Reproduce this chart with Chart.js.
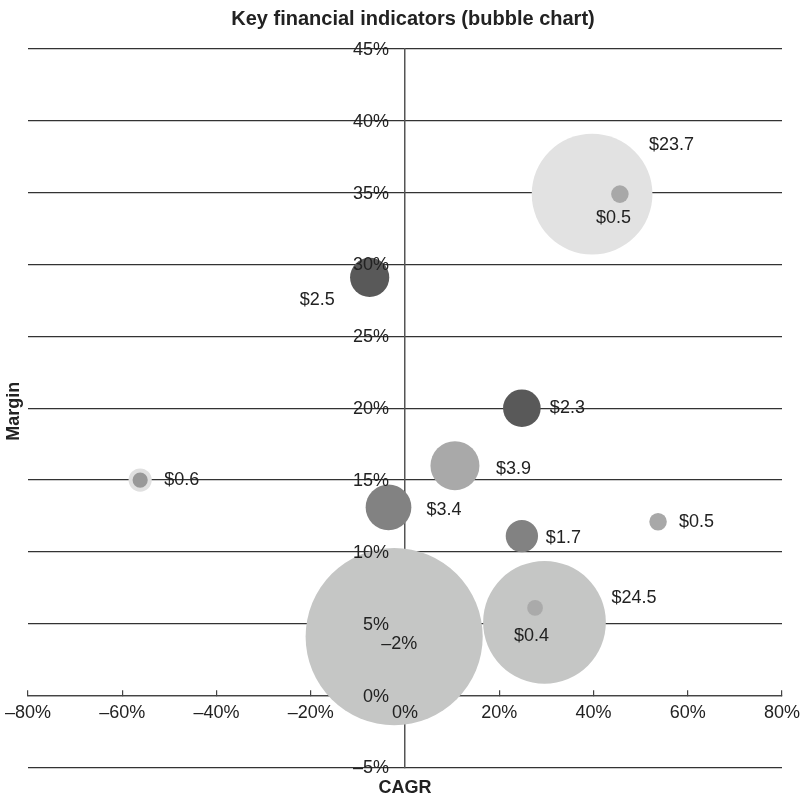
<!DOCTYPE html>
<html>
<head>
<meta charset="utf-8">
<title>Key financial indicators</title>
<script src="https://cdn.jsdelivr.net/npm/chart.js@4.4.1/dist/chart.umd.min.js"></script>
<style>
  html, body { margin: 0; padding: 0; background: #fff; }
  #wrap { width: 804px; height: 804px; }
</style>
</head>
<body>
<div id="wrap"><canvas id="myChart"></canvas></div>
<script>
// values (CAGR %, margin %, revenue $bn)
const cagr    = [-2.3, 29.6, 27.6, 39.7, 45.6, -7.5, 24.8, 10.6, -3.5, 24.8, 53.7, -56.2];
const margin  = [4.1, 5.1, 6.1, 34.9, 34.9, 29.1, 20.0, 16.0, 13.1, 11.1, 12.1, 15.0];
const revenue = [51, 24.5, 0.4, 23.7, 0.5, 2.5, 2.3, 3.9, 3.4, 1.7, 0.5, 0.6];
const labels  = ['\u20132%', '$24.5', '$0.4', '$23.7', '$0.5', '$2.5', '$2.3', '$3.9', '$3.4', '$1.7', '$0.5', '$0.6'];

const xTicks = [-80, -60, -40, -20, 0, 20, 40, 60, 80];
const yTicks = [-5, 0, 5, 10, 15, 20, 25, 30, 35, 40, 45];

// styling
const colors = ['#c5c6c5', '#c5c6c5', '#aaaaaa', '#e2e2e2', '#a8a8a8', '#595959',
                '#595959', '#a9a9a9', '#828282', '#828282', '#a8a8a8', '#999999'];
const labelOffsets = [[-13, 7], [67, -24], [-21, 28], [57, -49], [-24, 24], [-70, 23],
                      [28, 0], [41, 3], [38, 3], [24, 2], [21, 0], [24, 0]];

const FONT = '"Liberation Sans", Arial, sans-serif';
Chart.defaults.font.family = FONT;
Chart.defaults.color = '#222';

const pct = v => (v < 0 ? '\u2013' + Math.abs(v) : v) + '%';
const noPad = s => { s.paddingLeft = 0; s.paddingRight = 0; s.paddingTop = 0; s.paddingBottom = 0; };

// bubble value labels, y tick labels (left of the crossing axis) and the y title
const extraText = {
    id: 'extraText',
    afterDatasetsDraw(chart) {
        const ctx = chart.ctx;
        const xs = chart.scales.x, ys = chart.scales.y;
        const meta = chart.getDatasetMeta(0);
        ctx.save();
        ctx.fillStyle = '#222';
        ctx.font = '18px ' + FONT;
        ctx.textAlign = 'left';
        ctx.textBaseline = 'middle';
        meta.data.forEach((el, i) => {
            ctx.fillText(labels[i], el.x + labelOffsets[i][0], el.y + labelOffsets[i][1]);
        });
        ctx.textAlign = 'right';
        const x0 = xs.getPixelForValue(0);
        yTicks.forEach(v => ctx.fillText(pct(v), x0 - 16, ys.getPixelForValue(v) + 1));
        ctx.font = 'bold 18px ' + FONT;
        ctx.textAlign = 'center';
        ctx.translate(14, (chart.chartArea.top + chart.chartArea.bottom) / 2 + 3);
        ctx.rotate(-Math.PI / 2);
        ctx.fillText('Margin', 0, 0);
        ctx.restore();
    }
};

const ctx = document.getElementById('myChart').getContext('2d');
const chart = new Chart(ctx, {
    type: 'bubble',
    data: {
        datasets: [{
            data: cagr.map((x, i) => ({ x: x, y: margin[i], r: 12.4 * Math.sqrt(revenue[i]) })),
            backgroundColor: colors,
            borderColor: colors.map((c, i) => i === 11 ? '#e0e0e0' : c),
            borderWidth: colors.map((c, i) => i === 11 ? 4 : 0),
            clip: false
        }]
    },
    options: {
        responsive: true,
        maintainAspectRatio: false,
        animation: false,
        events: [],
        layout: { autoPadding: false, padding: { left: 28, right: 6, top: 0, bottom: 0 } },
        plugins: {
            legend: { display: false },
            tooltip: { enabled: false },
            title: {
                display: true,
                text: 'Key financial indicators (bubble chart)',
                color: '#222',
                font: { size: 20, weight: 'bold' },
                padding: { top: 7, bottom: 18 }
            }
        },
        scales: {
            x: {
                type: 'linear',
                position: { y: 0 },
                min: -80, max: 80,
                afterBuildTicks: s => { s.ticks = xTicks.map(v => ({ value: v })); },
                afterFit: noPad,
                ticks: { callback: pct, font: { size: 18 }, color: '#222', padding: 13, z: 1 },
                grid: { drawOnChartArea: false, drawTicks: true, tickLength: -6, color: '#444', lineWidth: 1.2 },
                border: { display: true, color: '#444', width: 1.2 }
            },
            y: {
                type: 'linear',
                position: { x: 0 },
                min: -5, max: 45,
                afterBuildTicks: s => { s.ticks = yTicks.map(v => ({ value: v })); },
                afterFit: noPad,
                ticks: { display: false },
                grid: { drawTicks: false, color: '#333', lineWidth: 1.3 },
                border: { display: true, color: '#555', width: 1.5 }
            },
            xTitle: {
                type: 'linear',
                position: 'bottom',
                afterFit: noPad,
                ticks: { display: false },
                grid: { display: false, drawTicks: false },
                border: { display: false },
                title: { display: true, text: 'CAGR', color: '#222',
                         font: { size: 18, weight: 'bold' }, padding: { top: 10, bottom: 5 } }
            },
            rightPad: {
                type: 'linear',
                position: 'right',
                ticks: { display: false },
                grid: { display: false, drawTicks: false },
                border: { display: false },
                afterFit: s => { noPad(s); s.width = 16; }
            }
        }
    },
    plugins: [extraText]
});
</script>
</body>
</html>
